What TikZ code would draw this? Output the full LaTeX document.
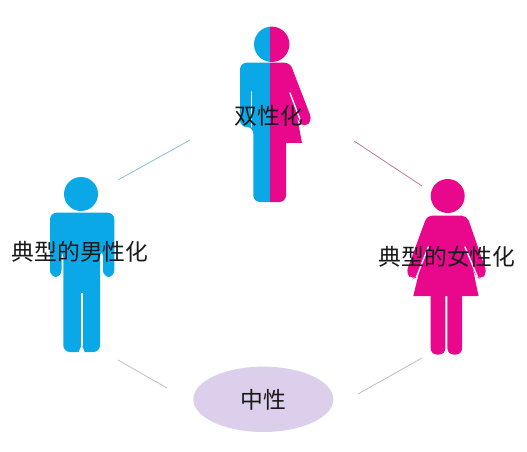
\documentclass[tikz,border=0pt]{standalone}
\usepackage{fontspec}
\usetikzlibrary{shapes.geometric}
\newfontfamily\cjk{Noto Sans CJK SC}
\definecolor{figblue}{HTML}{0BA8E8}
\definecolor{figpink}{HTML}{E9078C}
\definecolor{oval}{HTML}{DCCFEC}
\tikzset{
  x=0.75pt,y=-0.75pt,
  lab/.style={font=\cjk\fontsize{17.1}{20}\selectfont,text=black!90,inner sep=0pt},
  blueshape/.style={fill=figblue,draw=none},
  pinkshape/.style={fill=figpink,draw=none},
  slit/.style={draw=white,line width=1pt,line cap=round},
  link/.style={line width=0.6pt}
}
\begin{document}
\begin{tikzpicture}
\useasboundingbox (0,0) rectangle (527,452);
\fill[white] (0,0) rectangle (527,452);
% links
\coordinate (a1) at (118,180); \coordinate (a2) at (190,140);
\coordinate (b1) at (354,141); \coordinate (b2) at (422,186);
\coordinate (c1) at (118,360); \coordinate (c2) at (167,388);
\coordinate (d1) at (422,358); \coordinate (d2) at (358,394);
\draw[link,color=figblue!60!gray!60] (a1) -- (a2);
\draw[link,color=figpink!50!gray!75] (b1) -- (b2);
\draw[link,color=gray!30!oval] (c1) -- (c2);
\draw[link,color=gray!30!oval] (d1) -- (d2);
% male figure
\fill[blueshape] (81,194) circle[radius=17];
\fill[blueshape,rounded corners=5pt]
  (50,212.7) -- (114.3,212.7) -- (114.3,277) -- (103,277) -- (103,250) -- (100,250)
  -- (100,352) -- (63.3,352) -- (63.3,250) -- (61.5,250) -- (61.5,277) -- (50,277) -- cycle;
\draw[white,line width=1.2pt] (81.7,293) -- (81.7,346);
\fill[white] (78.5,352.5) -- (81.7,345) -- (84.9,352.5) -- cycle;
% androgynous figure
\begin{scope}
\clip (200,0) rectangle (270,230);
\fill[blueshape] (271.7,44.3) circle[radius=17.7];
\fill[blueshape,rounded corners=5pt]
  (240,62.7) -- (300,62.7) -- (300,202) -- (253.3,202) -- (253.3,127) -- (240,127) -- cycle;
\end{scope}
\begin{scope}
\clip (270,0) rectangle (330,230);
\fill[pinkshape] (271.7,44.3) circle[radius=17.7];
\fill[pinkshape] (250,80) -- (290,80) -- (302,143) -- (250,143) -- cycle;
\fill[pinkshape,rounded corners=4pt]
  (250,62.7) -- (290,62.7) -- (312,120) -- (305,127.5) -- (300,123) -- (280,90) -- (250,90) -- cycle;
\fill[pinkshape,rounded corners=5pt] (250,135) -- (286,135) -- (286,202) -- (250,202) -- cycle;
\end{scope}
\draw[slit] (251.7,92) -- (251.7,127);
\draw[slit] (290,93) -- (301,122);
% female figure
\fill[pinkshape] (447.7,196) circle[radius=17];
\fill[pinkshape] (428,235) -- (466,235) -- (478.5,296) -- (413.3,296) -- cycle;
\fill[pinkshape,rounded corners=4pt]
  (427,215.7) -- (467,215.7) -- (487,273) -- (481,279.5) -- (476,277) -- (465,250)
  -- (428,250) -- (417,277) -- (412,279.5) -- (406,273) -- cycle;
\fill[pinkshape,rounded corners=4.5pt] (430.7,285) -- (445.3,285) -- (445.3,354.5) -- (430.7,354.5) -- cycle;
\fill[pinkshape,rounded corners=4.5pt] (447.4,285) -- (462,285) -- (462,354.5) -- (447.4,354.5) -- cycle;
\draw[slit] (428.3,247) -- (416.5,277);
\draw[slit] (465,247) -- (477.5,277);
% oval
\node[ellipse,fill=oval,draw=none,inner sep=0pt,minimum width=105pt,minimum height=49pt] (neutral) at (263.3,399.3) {};
\node[lab] (ntext) at (263.5,400) {中性};
\node[lab] (both) at (269,116) {双性化};
\node[lab] (male) at (80,252) {典型的男性化};
\node[lab] (female) at (447,257) {典型的女性化};
\end{tikzpicture}
\end{document}
